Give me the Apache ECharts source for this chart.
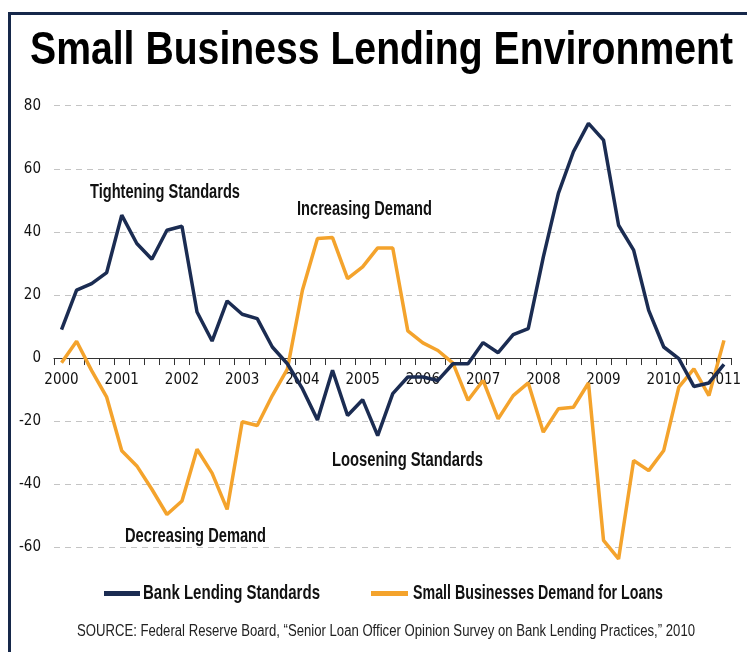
<!DOCTYPE html>
<html>
<head>
<meta charset="utf-8">
<script src="https://cdn.jsdelivr.net/npm/echarts@6/dist/echarts.min.js"></script>
<style>
html,body{margin:0;padding:0;background:#fff;}
#c{width:747px;height:652px;}
</style>
</head>
<body>
<div id="c"></div>
<script>
const categories = [
 '2000 Q1','2000 Q2','2000 Q3','2000 Q4',
 '2001 Q1','2001 Q2','2001 Q3','2001 Q4',
 '2002 Q1','2002 Q2','2002 Q3','2002 Q4',
 '2003 Q1','2003 Q2','2003 Q3','2003 Q4',
 '2004 Q1','2004 Q2','2004 Q3','2004 Q4',
 '2005 Q1','2005 Q2','2005 Q3','2005 Q4',
 '2006 Q1','2006 Q2','2006 Q3','2006 Q4',
 '2007 Q1','2007 Q2','2007 Q3','2007 Q4',
 '2008 Q1','2008 Q2','2008 Q3','2008 Q4',
 '2009 Q1','2009 Q2','2009 Q3','2009 Q4',
 '2010 Q1','2010 Q2','2010 Q3','2010 Q4',
 '2011 Q1'
];
const bankLendingStandards = [
 9.0, 21.5, 23.6, 27.1,
 45.3, 36.3, 31.3, 40.5,
 41.8, 14.6, 5.4, 18.1,
 13.9, 12.5, 3.5, -1.8,
 -9.7, -19.6, -3.9, -18.2,
 -13.2, -24.6, -11.3, -6.0,
 -6.0, -7.1, -1.8, -1.8,
 4.9, 1.7, 7.4, 9.3,
 32.0, 52.2, 65.4, 74.4,
 69.1, 42.1, 34.2, 15.1,
 3.5, -0.2, -9.0, -7.9,
 -2.0
];
const smallBusinessDemand = [
 -1.5, 5.3, -4.0, -12.4,
 -29.4, -34.2, -41.6, -49.6,
 -45.3, -28.9, -36.5, -48.0,
 -20.2, -21.4, -11.9, -3.5,
 21.5, 37.9, 38.2, 25.2,
 28.9, 34.9, 34.9, 8.6,
 4.8, 2.4, -1.6, -13.4,
 -7.1, -19.3, -11.9, -7.9,
 -23.5, -16.1, -15.6, -7.9,
 -57.8, -63.7, -32.5, -35.7,
 -29.3, -9.2, -3.4, -11.9,
 5.6
];
const yTicks = { min: -60, max: 80, interval: 20 };
const seriesNames = ['Bank Lending Standards', 'Small Businesses Demand for Loans'];
const titleText = 'Small Business Lending Environment';
const annotations = ['Tightening Standards', 'Increasing Demand', 'Loosening Standards', 'Decreasing Demand'];
const sourceText = 'SOURCE: Federal Reserve Board, \u201cSenior Loan Officer Opinion Survey on Bank Lending Practices,\u201d 2010';

const NAVY = '#1b2c52';
const ORANGE = '#f4a32c';
const SANS = '"Liberation Sans", Arial, sans-serif';
const COND = '"DejaVu Sans Condensed", "Liberation Sans", sans-serif';

const mctx = document.createElement('canvas').getContext('2d');
function fit(text, font, width) { mctx.font = font; return width / mctx.measureText(text).width; }

// layout
const gridTop = 105.7, gridBottom = 104.7, H = 652;
const gridH = H - gridTop - gridBottom;
const zeroOffset = -gridH * (0 - yTicks.min) / (yTicks.max - yTicks.min);

function ctext(text, font, cx, cy, width, fill) {
  return { type: 'text', x: cx, y: cy, scaleX: fit(text, font, width), silent: true,
    style: { text: text, font: font, fill: fill || '#111', align: 'center', verticalAlign: 'middle' } };
}

const titleFont = 'bold 47px ' + SANS;
const annFont = 'bold 20px ' + SANS;
const legFont = 'bold 21px ' + SANS;
const srcFont = '16px ' + SANS;

const chart = echarts.init(document.getElementById('c'), null, { renderer: 'canvas' });
chart.setOption({
  animation: false,
  backgroundColor: '#ffffff',
  grid: { left: 54, right: 15.5, top: gridTop, bottom: gridBottom, containLabel: false },
  xAxis: {
    type: 'category',
    data: categories,
    boundaryGap: true,
    offset: zeroOffset,
    axisLine: { onZero: false, lineStyle: { color: '#333', width: 1.2 } },
    axisTick: { show: true, interval: 0, length: 7, lineStyle: { color: '#333', width: 1 } },
    axisLabel: {
      interval: 3,
      margin: 15,
      color: '#111',
      fontFamily: COND,
      fontSize: 15,
      formatter: v => v.split(' ')[0]
    },
    splitLine: { show: false }
  },
  yAxis: {
    type: 'value',
    min: yTicks.min, max: yTicks.max, interval: yTicks.interval,
    axisLine: { show: false },
    axisTick: { show: false },
    axisLabel: { margin: 13, color: '#111', fontFamily: COND, fontSize: 15 },
    splitLine: { show: true, lineStyle: { color: '#c4c4c4', type: [6, 5], width: 1 } }
  },
  series: [
    {
      name: seriesNames[0], type: 'line', data: bankLendingStandards,
      symbol: 'none', smooth: false, clip: false,
      lineStyle: { color: NAVY, width: 3.5 }, itemStyle: { color: NAVY }, z: 3
    },
    {
      name: seriesNames[1], type: 'line', data: smallBusinessDemand,
      symbol: 'none', smooth: false, clip: false,
      lineStyle: { color: ORANGE, width: 3.5 }, itemStyle: { color: ORANGE }, z: 2
    }
  ],
  graphic: [
    { type: 'rect', shape: { x: 9.5, y: 13.5, width: 800, height: 700 }, silent: true,
      style: { fill: 'none', stroke: '#16284a', lineWidth: 3 } },
    ctext(titleText, titleFont, 381.5, 51, 703, '#000'),
    ctext(annotations[0], annFont, 165, 192, 150),
    ctext(annotations[1], annFont, 364.5, 209, 135),
    ctext(annotations[2], annFont, 407.5, 460, 151),
    ctext(annotations[3], annFont, 195.5, 536, 141),
    { type: 'rect', shape: { x: 104, y: 591, width: 36, height: 5 }, style: { fill: NAVY }, silent: true },
    ctext(seriesNames[0], legFont, 231.5, 593, 177),
    { type: 'rect', shape: { x: 371, y: 591, width: 37, height: 5 }, style: { fill: ORANGE }, silent: true },
    ctext(seriesNames[1], legFont, 538, 593, 250),
    ctext(sourceText, srcFont, 386, 632, 618, '#222')
  ]
});
</script>
</body>
</html>
